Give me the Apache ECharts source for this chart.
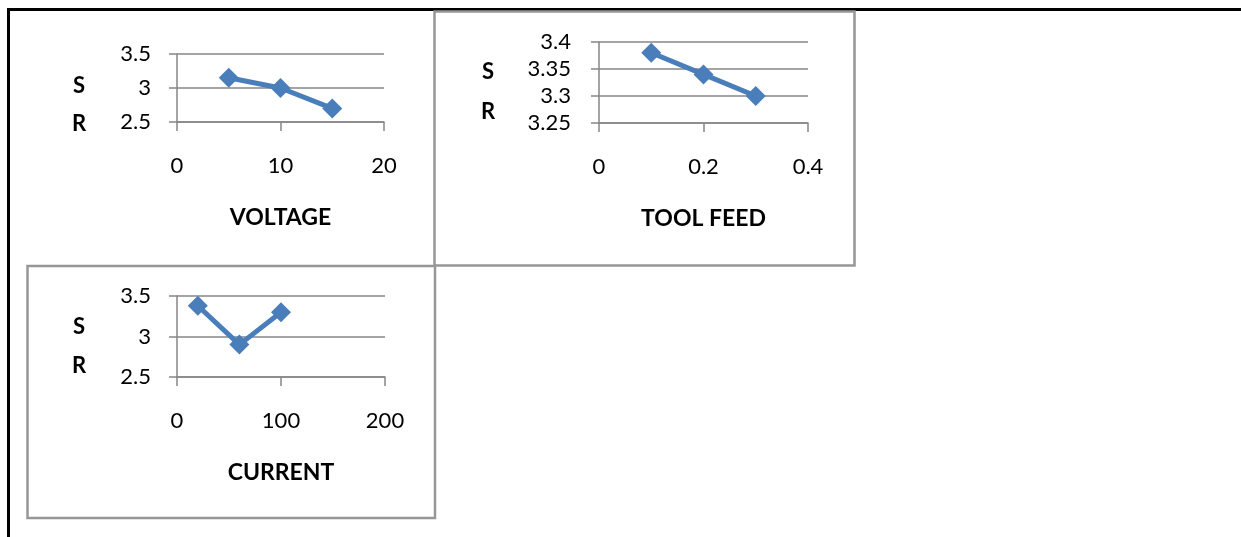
<!DOCTYPE html>
<html>
<head>
<meta charset="utf-8">
<title>SR vs process parameters</title>
<script src="https://cdn.jsdelivr.net/npm/echarts@6/dist/echarts.min.js"></script>
<style>
  html, body { margin: 0; padding: 0; background: #fff; }
  #chart { width: 1241px; height: 537px; }
</style>
</head>
<body>
<div id="chart"></div>
<script>
// Surface roughness (SR) against each machining parameter
const voltage = [5, 10, 15];
const srVoltage = [3.15, 3.0, 2.7];
const toolFeed = [0.1, 0.2, 0.3];
const srFeed = [3.38, 3.34, 3.30];
const current = [20, 60, 100];
const srCurrent = [3.38, 2.9, 3.3];

// Axis ranges: [min, max, interval]
const voltageAxis = [0, 20, 10];
const feedAxis = [0, 0.4, 0.2];
const currentAxis = [0, 200, 100];
const srAxisWide = [2.5, 3.5, 0.5];
const srAxisFeed = [3.25, 3.4, 0.05];

const xTitles = ['VOLTAGE', 'TOOL FEED', 'CURRENT'];
const yTitleParts = ['S', 'R'];

const FONT = 'Lato, "Open Sans", sans-serif';
const GRID_GRAY = '#868686';
const LINE_BLUE = '#4a7ebb';
const BOX_GRAY = '#979797';

const grids = [
  { left: 177, top: 54, width: 207, height: 68 },
  { left: 599, top: 42, width: 209, height: 81 },
  { left: 177, top: 296, width: 208, height: 81 }
];

function xAxisFor(idx, range, title) {
  return {
    type: 'value', gridIndex: idx,
    min: range[0], max: range[1], interval: range[2],
    name: title, nameLocation: 'middle', nameGap: 84,
    nameTextStyle: { fontFamily: FONT, fontSize: 23, fontWeight: 'bold', color: '#000' },
    axisLine: { show: true, lineStyle: { color: GRID_GRAY, width: 1.5 } },
    axisTick: { show: true, length: 9, lineStyle: { color: GRID_GRAY, width: 1.5 } },
    axisLabel: { margin: 33, fontFamily: FONT, fontSize: 22, color: '#000' },
    splitLine: { show: false }
  };
}

function yAxisFor(idx, range, margin) {
  return {
    type: 'value', gridIndex: idx,
    min: range[0], max: range[1], interval: range[2],
    axisLine: { show: true, lineStyle: { color: GRID_GRAY, width: 1.5 } },
    axisTick: { show: true, length: 8, lineStyle: { color: GRID_GRAY, width: 1.5 } },
    axisLabel: { margin: margin, fontFamily: FONT, fontSize: 22, color: '#000' },
    splitLine: { show: true, lineStyle: { color: GRID_GRAY, width: 1.5 } }
  };
}

function seriesFor(idx, xs, ys) {
  return {
    type: 'line', xAxisIndex: idx, yAxisIndex: idx,
    data: xs.map((x, i) => [x, ys[i]]),
    symbol: 'diamond', symbolSize: 20,
    lineStyle: { color: LINE_BLUE, width: 5 },
    itemStyle: { color: LINE_BLUE },
    animation: false, silent: true
  };
}

function yTitle(x, ySYR) {
  return yTitleParts.map((t, i) => ({
    type: 'text', x: x, y: ySYR[i],
    style: { text: t, fontFamily: FONT, fontSize: 22, fontWeight: 'bold', fill: '#000',
             align: 'center', verticalAlign: 'middle' }
  }));
}

const chart = echarts.init(document.getElementById('chart'), null, { renderer: 'canvas' });
chart.setOption({
  animation: false,
  grid: grids,
  xAxis: [
    xAxisFor(0, voltageAxis, xTitles[0]),
    xAxisFor(1, feedAxis, xTitles[1]),
    xAxisFor(2, currentAxis, xTitles[2])
  ],
  yAxis: [
    yAxisFor(0, srAxisWide, 26),
    yAxisFor(1, srAxisFeed, 28),
    yAxisFor(2, srAxisWide, 26)
  ],
  series: [
    seriesFor(0, voltage, srVoltage),
    seriesFor(1, toolFeed, srFeed),
    seriesFor(2, current, srCurrent)
  ],
  graphic: [
    // outer table rules
    { type: 'line', shape: { x1: 7, y1: 9.5, x2: 1241, y2: 9.5 }, style: { stroke: '#000', lineWidth: 3 } },
    { type: 'line', shape: { x1: 8.5, y1: 8, x2: 8.5, y2: 537 }, style: { stroke: '#000', lineWidth: 3 } },
    // chart frames
    { type: 'rect', shape: { x: 434.5, y: 11.5, width: 420, height: 254 },
      style: { fill: null, stroke: BOX_GRAY, lineWidth: 2.5 } },
    { type: 'rect', shape: { x: 27.5, y: 266, width: 407.5, height: 252 },
      style: { fill: null, stroke: BOX_GRAY, lineWidth: 2.5 } },
    ...yTitle(79, [86, 124]),
    ...yTitle(488, [72, 112]),
    ...yTitle(79, [327, 366])
  ]
});
</script>
</body>
</html>
